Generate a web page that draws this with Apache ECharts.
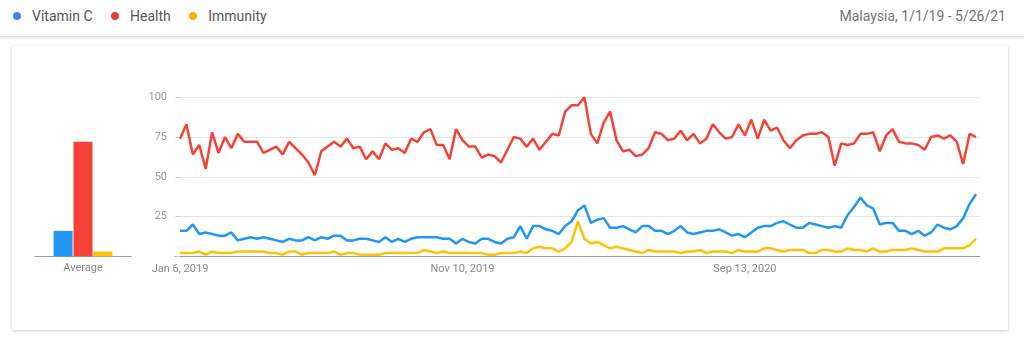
<!DOCTYPE html>
<html>
<head>
<meta charset="utf-8">
<script src="https://cdn.jsdelivr.net/npm/echarts@6/dist/echarts.min.js"></script>
<style>
  html, body { margin: 0; padding: 0; background: #fff; font-family: Roboto, Arial, sans-serif; }
  .page { position: relative; width: 1024px; height: 339px; overflow: hidden; background: #fff; }
  .header { position: absolute; left: 0; top: 0; width: 1024px; height: 36px; background: #fff;
            border-bottom: 1px solid #e0e0e0; box-shadow: 0 1px 2px rgba(0,0,0,0.12); }
  .legend { position: absolute; left: 13px; top: 8px; font-size: 14px; color: #555; }
  .legend span.item { margin-right: 15px; }
  .legend i { display: inline-block; width: 8px; height: 8px; border-radius: 50%; margin-right: 11px; vertical-align: 1px; }
  .range { position: absolute; right: 18px; top: 8px; font-size: 14px; color: #757575; }
  .card { position: absolute; left: 12px; top: 46px; width: 996px; height: 284px; background: #fff;
          box-shadow: 0 1px 3px rgba(0,0,0,0.22); }
  #chart { position: absolute; left: 0; top: 0; width: 1024px; height: 339px; }
</style>
</head>
<body>
<div class="page">
  <div class="header">
    <div class="legend">
      <span class="item"><i style="background:#4285f4"></i>Vitamin C</span>
      <span class="item"><i style="background:#db4437"></i>Health</span>
      <span class="item"><i style="background:#f4b400"></i>Immunity</span>
    </div>
    <div class="range">Malaysia, 1/1/19 - 5/26/21</div>
  </div>
  <div class="card"></div>
  <div id="chart"></div>
</div>
<script>
// weekly interest, Jan 6 2019 .. May 23 2021 (125 weeks)
const vitaminC = [
  16,16,20,14,15,14,13,13,15,10,11,12,11,12,11,10,9,11,10,10,12,10,12,11,13,
  13,10,10,11,11,10,9,12,9,11,9,11,12,12,12,12,11,11,8,11,9,8,11,11,9,
  8,11,12,19,11,19,19,17,16,14,19,22,29,32,21,23,24,18,18,19,17,15,19,19,16,
  16,14,16,19,15,14,15,16,16,17,15,13,14,12,15,18,19,19,21,22,20,18,18,21,20,
  19,18,19,18,26,31,37,32,30,20,21,21,16,16,14,16,13,15,20,18,17,19,24,33,39
];
const health = [
  74,83,64,70,55,78,65,75,68,77,72,72,72,65,67,69,64,72,68,64,59,51,66,69,72,
  69,74,68,69,61,66,61,71,67,68,65,74,72,78,80,70,70,61,80,73,69,69,62,64,63,
  59,67,75,74,69,74,67,72,77,76,91,95,95,100,77,71,84,91,73,66,67,63,64,68,78,
  77,73,74,79,73,77,71,74,83,78,74,75,83,76,86,74,86,79,81,73,68,73,76,77,77,
  78,75,57,71,70,71,77,77,78,66,76,80,72,71,71,70,67,75,76,74,76,72,58,77,75
];
const immunity = [
  2,2,2,3,1,3,2,2,2,3,3,3,3,3,2,2,1,3,3,1,2,2,2,2,3,
  1,2,2,1,1,1,1,2,2,2,2,2,2,4,3,2,3,2,2,2,2,2,2,1,1,
  2,2,2,3,2,5,6,5,5,3,5,9,22,11,8,9,7,5,6,5,4,3,2,4,3,
  3,3,3,2,3,3,4,2,3,3,3,2,4,3,3,3,5,5,4,3,4,4,4,2,2,
  4,4,3,3,5,4,4,3,5,3,3,4,4,4,5,4,3,3,3,5,5,5,5,7,11
];
const averages = [16, 72, 3];
const seriesNames = ['Vitamin C', 'Health', 'Immunity'];
const colors = ['#2196f3', '#f44336', '#ffc107'];
const tickIndex = [0, 44, 88];
const tickLabels = ['Jan 6, 2019', 'Nov 10, 2019', 'Sep 13, 2020'];

const chart = echarts.init(document.getElementById('chart'), null, { renderer: 'canvas' });

const toPairs = arr => arr.map((v, i) => [i, v]);
const lineData = [vitaminC, health, immunity];

const option = {
  animation: false,
  textStyle: { fontFamily: 'Roboto, Arial, sans-serif' },
  grid: [
    { left: 35, right: 893, top: 97.3, bottom: 82.7 },
    { left: 175, right: 44, top: 97.3, bottom: 82.7 }
  ],
  xAxis: [
    {
      gridIndex: 0, type: 'category', data: ['Average'],
      axisLine: { lineStyle: { color: '#9e9e9e', width: 1 } },
      axisTick: { show: false },
      axisLabel: { color: '#888', fontSize: 11, margin: 6 }
    },
    {
      gridIndex: 1, type: 'value', min: -0.78, max: 124.62,
      splitLine: { show: false },
      axisLine: { show: true, onZero: false, lineStyle: { color: '#9e9e9e', width: 1 } },
      axisTick: { show: false },
      axisLabel: {
        color: '#888', fontSize: 11, margin: 7,
        customValues: tickIndex,
        formatter: v => tickLabels[tickIndex.indexOf(Math.round(v))] || ''
      }
    }
  ],
  yAxis: [
    { gridIndex: 0, type: 'value', min: 0, max: 100, show: false },
    {
      gridIndex: 1, type: 'value', min: 0, max: 100, interval: 25,
      axisLine: { show: false },
      axisTick: { show: true, length: 4, lineStyle: { color: '#ccc' } },
      axisLabel: { color: '#999', fontSize: 11, margin: 8, formatter: v => v === 0 ? '' : v },
      splitLine: { lineStyle: { color: '#e6e6e6', width: 1 } }
    }
  ],
  series: [
    ...seriesNames.map((name, k) => ({
      name, type: 'bar', xAxisIndex: 0, yAxisIndex: 0,
      data: [averages[k]], barWidth: 19, barGap: '5%',
      itemStyle: { color: colors[k] }
    })),
    ...seriesNames.map((name, k) => ({
      name, type: 'line', xAxisIndex: 1, yAxisIndex: 1,
      data: toPairs(lineData[k]), showSymbol: false,
      lineStyle: { color: colors[k], width: 2.5 }, z: k === 1 ? 3 : 2
    }))
  ]
};

chart.setOption(option);
</script>
</body>
</html>
